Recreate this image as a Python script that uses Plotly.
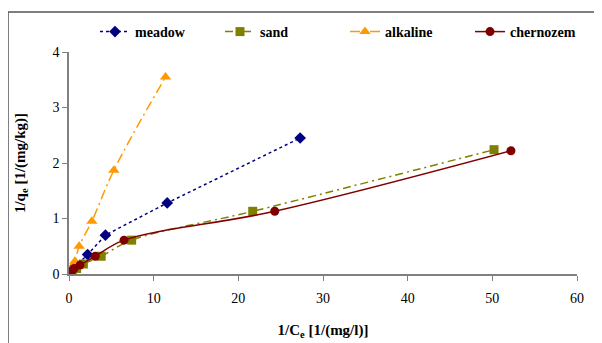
import plotly.graph_objects as go

meadow_x = [0.1, 0.5, 2.2, 4.3, 11.6, 27.3]
meadow_y = [0.03, 0.1, 0.35, 0.7, 1.28, 2.45]
sand_x = [0.1, 0.4, 0.9, 1.7, 3.8, 7.4, 21.7, 50.2]
sand_y = [0.02, 0.05, 0.1, 0.18, 0.32, 0.61, 1.13, 2.24]
alk_x = [0.05, 0.3, 0.7, 1.2, 2.7, 5.3, 11.4]
alk_y = [0.03, 0.12, 0.23, 0.5, 0.95, 1.87, 3.55]
cher_x = [0.05, 0.3, 0.6, 1.3, 3.1, 6.5, 24.3, 52.2]
cher_y = [0.02, 0.05, 0.1, 0.16, 0.32, 0.61, 1.13, 2.22]

x_ticks = [0, 10, 20, 30, 40, 50, 60]
y_ticks = [0, 1, 2, 3, 4]

SERIF = "Liberation Serif"

fig = go.Figure()
fig.add_trace(go.Scatter(x=meadow_x, y=meadow_y, name="meadow", mode="lines+markers",
                         line=dict(color="#000080", width=1.5, dash="dot"),
                         marker=dict(symbol="diamond", size=9, color="#000080")))
fig.add_trace(go.Scatter(x=sand_x, y=sand_y, name="sand", mode="lines+markers",
                         line=dict(color="#808000", width=1.5, dash="8px,4px,2px,4px", shape="spline"),
                         marker=dict(symbol="square", size=9, color="#808000")))
fig.add_trace(go.Scatter(x=alk_x, y=alk_y, name="alkaline", mode="lines+markers",
                         line=dict(color="#FF9900", width=1.5, dash="10px,4px,2px,4px", shape="spline"),
                         marker=dict(symbol="triangle-up", size=10, color="#FF9900")))
fig.add_trace(go.Scatter(x=cher_x, y=cher_y, name="chernozem", mode="lines+markers",
                         line=dict(color="#800000", width=1.5, shape="spline"),
                         marker=dict(symbol="circle", size=9, color="#800000")))

axis_common = dict(showgrid=False, zeroline=False, showline=True, linecolor="#808080", linewidth=1.5,
                   ticks="outside", ticklen=5, tickcolor="#808080", tickwidth=1,
                   tickfont=dict(family=SERIF, size=14, color="black"))
fig.update_xaxes(range=[0, 60], tickvals=x_ticks, ticklabelstandoff=5, **axis_common,
                 title=dict(text="<b>1/C<sub>e</sub> [1/(mg/l)]</b>", font=dict(family=SERIF, size=15, color="black"), standoff=20))
fig.update_yaxes(range=[0, 4], tickvals=y_ticks, **axis_common,
                 title=dict(text="<b>1/q<sub>e</sub> [1/(mg/kg)]</b>", font=dict(family=SERIF, size=15, color="black"), standoff=23))

fig.update_layout(
    width=602, height=343,
    margin=dict(l=61, r=33, t=44, b=77, autoexpand=False),
    plot_bgcolor="white", paper_bgcolor="white",
    font=dict(family=SERIF, color="black"),
    legend=dict(orientation="h", x=87 / 602, y=1 - 8 / 343, xref="container", yref="container",
                xanchor="left", yanchor="top", entrywidth=80, entrywidthmode="pixels",
                font=dict(family=SERIF, size=14, color="black", weight="bold"),
                bgcolor="rgba(0,0,0,0)", borderwidth=0),
)
top = (266 - 4) / 222
left = -61 / 508
fig.add_shape(type="line", xref="paper", yref="paper", x0=left, x1=1.2, y0=top, y1=top,
              line=dict(color="#555555", width=1.5))
fig.add_shape(type="line", xref="paper", yref="paper", x0=left, x1=left, y0=-0.5, y1=top,
              line=dict(color="#555555", width=1.5))

fig.write_html("out.html")
